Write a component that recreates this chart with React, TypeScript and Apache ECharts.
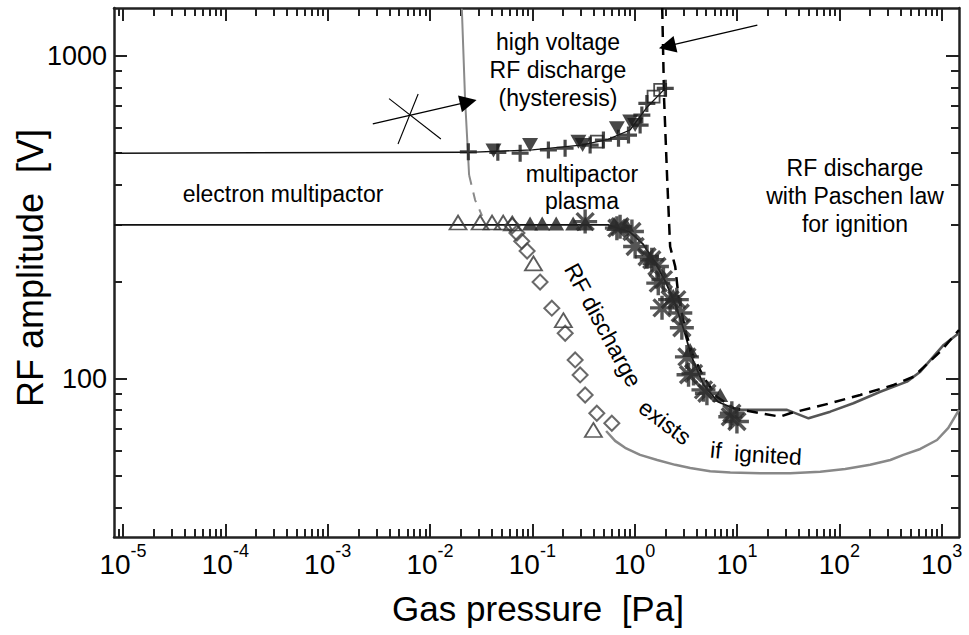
import React, { useEffect, useRef } from "react";
import * as echarts from "echarts";

// ---------- axis ranges (Pa / V) ----------
const X_MIN = 8.17e-6;
const X_MAX = 1476;
const Y_MIN = 32.4;
const Y_MAX = 1408;
const xMajorExp = [-5, -4, -3, -2, -1, 0, 1, 2, 3];
const yMajorValues = [100, 1000];

// ---------- data: [pressure Pa, RF amplitude V] ----------
const line500 = [[X_MIN, 500], [0.0237, 503]];
const hysteresisLine = [[0.0237, 503], [0.1, 512], [0.3, 530], [0.55, 552], [0.9, 590], [1.3, 690], [2.0, 795]];
const plusMarks = [[0.0237, 505], [0.046, 503], [0.076, 500], [0.1435, 512], [0.209, 518], [0.367, 530], [0.495, 549], [0.695, 556], [0.87, 569], [1.13, 611], [1.175, 656], [1.315, 713], [1.99, 794]];
const invTriMarks = [[0.0417, 510], [0.095, 530], [0.282, 543], [0.31, 530], [0.67, 597], [0.904, 627], [1.01, 611]];
const squareMarks = [[0.4266, 543], [1.53, 748], [1.775, 785]];

const line300 = [[X_MIN, 300], [0.55, 300], [0.9, 285], [1.2, 262], [1.6, 228], [2.0, 200], [2.5, 170], [3.0, 143], [3.6, 117], [4.7, 96], [6.5, 85], [10, 80.2]];
const openTriMarks = [[0.0188, 305], [0.0309, 305], [0.0404, 305], [0.0519, 305], [0.0636, 303], [0.1026, 228], [0.201, 152], [0.395, 69.5]];
const filledTriMarks = [[0.095, 303], [0.1248, 303], [0.171, 303], [0.2506, 303], [0.33, 303], [0.631, 302], [0.826, 300], [1.42, 237], [2.38, 181], [3.48, 123], [6.85, 89.2]];
const asteriskMarks = [[0.328, 307], [0.67, 293], [0.72, 296], [0.94, 286], [1.01, 257], [1.32, 239], [1.47, 234], [1.65, 223], [1.7, 198], [1.91, 203], [2.22, 176], [1.85, 166], [2.58, 176], [2.79, 160], [2.89, 144], [3.24, 117], [3.36, 103], [3.76, 104], [4.7, 92.5], [5.08, 90.3], [8.6, 76.4], [8.9, 78.3], [9.98, 73.8]];
const diamondMarks = [[0.0636, 298], [0.0707, 283], [0.0788, 267], [0.0889, 249], [0.119, 199.5], [0.155, 165.6], [0.2094, 138.5], [0.262, 114.5], [0.293, 102.9], [0.328, 89.2], [0.4266, 78.3], [0.598, 72.9]];

const steepGray = [[0.02047, 1400], [0.02203, 731], [0.0241, 428]];
const steepGrayDash = [[0.0241, 428], [0.0276, 358], [0.0323, 320]];
const bottomCurve = [[0.526, 69], [0.644, 64.3], [0.807, 61.2], [1.13, 58.2], [1.66, 56.1], [2.49, 54.2], [3.49, 53], [5.47, 51.8], [8.6, 51.3], [16.9, 51.0], [33.1, 51.0], [65, 51.6], [114, 52.6], [200, 54.2], [315, 56.1], [422, 58.2], [618, 60.7], [900, 64.7], [1161, 70.5], [1476, 80.2]];
const paschen = [[1.858, 1408], [1.94, 731], [2.08, 413], [2.22, 257], [2.49, 222.7], [2.68, 179.8], [3.12, 141.8], [3.62, 120.4], [4.68, 101.6], [6.36, 88.1], [9.25, 81.2], [16.9, 78.3], [26.4, 76.4], [33.1, 78.3], [81.5, 84.1], [160, 89.2], [339, 95.8], [531, 101.6], [968, 121.5], [1476, 141.8]];
const rightSolid = [[9.98, 80.2], [30.8, 80.2], [50, 75.5], [81.5, 79.2], [137, 84.1], [251, 91.3], [458, 98.1], [618, 105.3], [1045, 127.4], [1476, 138.8]];

const arrowLines = [
  [[0.00276, 616], [0.02366, 720.5]],
  [[15.8, 1247], [2.08, 1072]],
];
const starLines = [
  [[0.00398, 737.6], [0.01277, 553.4]],
  [[0.00766, 762.8], [0.00487, 534]],
];

// ---------- helpers ----------
const lg = (v: number) => Math.log10(v);
const toLog = (pts: number[][]) => pts.map(([x, y]) => [lg(x), lg(y)]);

function minorTicks(lo: number, hi: number) {
  const out: number[] = [];
  for (let n = -7; n <= 4; n++) {
    for (let k = 2; k <= 9; k++) {
      const v = k * Math.pow(10, n);
      if (v >= lo && v <= hi) out.push(lg(v));
    }
  }
  return out;
}

function barsPath(angles: number[], half: number, w: number) {
  const c = half;
  return (
    "path://" +
    angles
      .map((a) => {
        const r = (a * Math.PI) / 180;
        const cx = Math.cos(r);
        const sy = Math.sin(r);
        const px = -sy * w;
        const py = cx * w;
        const p = [
          [c + cx * half + px, c + sy * half + py],
          [c - cx * half + px, c - sy * half + py],
          [c - cx * half - px, c - sy * half - py],
          [c + cx * half - px, c + sy * half - py],
        ];
        return "M" + p.map((q) => q[0].toFixed(2) + "," + q[1].toFixed(2)).join("L") + "Z";
      })
      .join(" ")
  );
}

const PLUS = barsPath([0, 90], 8, 1.5);
const ASTER = barsPath([0, 45, 90, 135], 12, 1.7);

const FONT = "'Liberation Sans', Arial, Helvetica, sans-serif";
const AXIS_COLOR = "#222";

export default function App() {
  const ref = useRef<HTMLDivElement>(null);

  useEffect(() => {
    if (!ref.current) return;
    const chart = echarts.init(ref.current, null, { renderer: "svg" });

    const xMin = lg(X_MIN);
    const xMax = lg(X_MAX);
    const yMin = lg(Y_MIN);
    const yMax = lg(Y_MAX);
    const xMinor = minorTicks(X_MIN, X_MAX);
    const yMinor = minorTicks(Y_MIN, Y_MAX);
    const yMajor = yMajorValues.map(lg);

    const hiddenLine = { show: false, onZero: false };
    const shownLine = { show: true, onZero: false, lineStyle: { color: AXIS_COLOR, width: 2.5 } };
    const baseAxis = {
      type: "value" as const,
      splitLine: { show: false },
      axisLine: hiddenLine,
      axisLabel: { show: false },
    };
    const tick = (values: number[], length: number) => ({
      show: true,
      inside: true,
      length,
      customValues: values,
      lineStyle: { color: AXIS_COLOR, width: 2 },
    });

    const xAxes = [
      {
        ...baseAxis,
        min: xMin,
        max: xMax,
        position: "bottom",
        axisLine: shownLine,
        axisTick: tick(xMajorExp, 13),
        axisLabel: {
          show: true,
          customValues: xMajorExp,
          margin: 5,
          formatter: (v: number) => `{b|10}{s|${Math.round(v)}}`,
          rich: {
            b: { fontSize: 28, fontFamily: FONT, color: "#000", lineHeight: 36, verticalAlign: "bottom" },
            s: { fontSize: 18, fontFamily: FONT, color: "#000", lineHeight: 18, verticalAlign: "top" },
          },
        },
      },
      { ...baseAxis, min: xMin, max: xMax, position: "bottom", axisTick: tick(xMinor, 8) },
      { ...baseAxis, min: xMin, max: xMax, position: "top", axisLine: shownLine, axisTick: tick(xMajorExp, 13) },
      { ...baseAxis, min: xMin, max: xMax, position: "top", axisTick: tick(xMinor, 8) },
    ];
    const yAxes = [
      {
        ...baseAxis,
        min: yMin,
        max: yMax,
        position: "left",
        axisLine: shownLine,
        axisTick: tick(yMajor, 13),
        axisLabel: {
          show: true,
          customValues: yMajor,
          margin: 7,
          fontSize: 27,
          fontFamily: FONT,
          color: "#000",
          formatter: (v: number) => String(Math.round(Math.pow(10, v))),
        },
      },
      { ...baseAxis, min: yMin, max: yMax, position: "left", axisTick: tick(yMinor, 8) },
      { ...baseAxis, min: yMin, max: yMax, position: "right", axisLine: shownLine, axisTick: tick(yMajor, 13) },
      { ...baseAxis, min: yMin, max: yMax, position: "right", axisTick: tick(yMinor, 8) },
    ];

    const lineS = (data: number[][], color: string, width: number, extra: any = {}) => ({
      type: "line",
      data: toLog(data),
      showSymbol: false,
      symbol: "none",
      silent: true,
      clip: true,
      lineStyle: { color, width, ...(extra.lineStyle || {}) },
      smooth: extra.smooth || false,
      z: extra.z || 2,
    });
    const scatterS = (data: number[][], symbol: string, size: any, itemStyle: any, extra: any = {}) => ({
      type: "scatter",
      data: toLog(data),
      symbol,
      symbolSize: size,
      silent: true,
      itemStyle,
      z: 5,
      ...extra,
    });

    const option: any = {
      animation: false,
      grid: { left: 114, right: 10, top: 8, bottom: 98, containLabel: false, outerBoundsMode: "none" },
      xAxis: xAxes,
      yAxis: yAxes,
      series: [
        lineS(line500, "#111", 1.5),
        lineS(hysteresisLine, "#111", 1.3),
        lineS(line300, "#111", 1.8),
        lineS(steepGray, "#8a8a8a", 2),
        lineS(steepGrayDash, "#8a8a8a", 2, { lineStyle: { type: [10, 8] } }),
        lineS(bottomCurve, "#888", 2.5),
        lineS(rightSolid, "#555", 2.6),
        lineS(paschen, "#000", 2.5, { lineStyle: { type: [11, 7] }, z: 3 }),
        scatterS(diamondMarks, "diamond", 15, { color: "rgba(255,255,255,0)", borderColor: "#444", borderWidth: 2 }),
        scatterS(openTriMarks, "triangle", [17, 14], { color: "rgba(255,255,255,0)", borderColor: "#333", borderWidth: 1.8 }),
        scatterS(filledTriMarks, "triangle", [16, 14], { color: "#1a1a1a" }),
        scatterS(asteriskMarks, ASTER, 24, { color: "#2b2b2b" }),
        scatterS(squareMarks, "rect", 12, { color: "rgba(255,255,255,0)", borderColor: "#222", borderWidth: 1.8 }),
        scatterS(invTriMarks, "triangle", [16, 14], { color: "#1a1a1a" }, { symbolRotate: 180 }),
        scatterS(plusMarks, PLUS, 17, { color: "#1a1a1a" }),
        {
          type: "lines",
          coordinateSystem: "cartesian2d",
          silent: true,
          symbol: ["none", "triangle"],
          symbolSize: 17,
          lineStyle: { color: "#000", width: 1.3, opacity: 1 },
          data: arrowLines.map((c) => ({ coords: toLog(c) })),
          z: 6,
        },
        {
          type: "lines",
          coordinateSystem: "cartesian2d",
          silent: true,
          symbol: ["none", "none"],
          lineStyle: { color: "#000", width: 1.1, opacity: 1 },
          data: starLines.map((c) => ({ coords: toLog(c) })),
          z: 6,
        },
      ],
      graphic: [
        { type: "text", x: 538, y: 608, style: { text: "Gas pressure  [Pa]", font: `35px ${FONT}`, fill: "#000", align: "center", verticalAlign: "middle" } },
        { type: "text", x: 30, y: 268, rotation: Math.PI / 2, style: { text: "RF amplitude  [V]", font: `36px ${FONT}`, fill: "#000", align: "center", verticalAlign: "middle" } },
        { type: "text", x: 558, y: 70, style: { text: "high voltage\nRF discharge\n(hysteresis)", font: `23px ${FONT}`, lineHeight: 28, fill: "#000", align: "center", verticalAlign: "middle" } },
        { type: "text", x: 582, y: 187, style: { text: "multipactor\nplasma", font: `23px ${FONT}`, lineHeight: 27, fill: "#000", align: "center", verticalAlign: "middle" } },
        { type: "text", x: 855, y: 196, style: { text: "RF discharge\nwith Paschen law\nfor ignition", font: `23px ${FONT}`, lineHeight: 28, fill: "#000", align: "center", verticalAlign: "middle" } },
        { type: "text", x: 283, y: 194, style: { text: "electron multipactor", font: `23px ${FONT}`, fill: "#000", align: "center", verticalAlign: "middle" } },
        { type: "text", x: 603, y: 325, rotation: -1.075, style: { text: "RF discharge", font: `23px ${FONT}`, fill: "#000", align: "center", verticalAlign: "middle" } },
        { type: "text", x: 665, y: 422, rotation: -0.646, style: { text: "exists", font: `23px ${FONT}`, fill: "#000", align: "center", verticalAlign: "middle" } },
        { type: "text", x: 716, y: 450, rotation: -0.1, style: { text: "if", font: `23px ${FONT}`, fill: "#000", align: "center", verticalAlign: "middle" } },
        { type: "text", x: 768, y: 455, rotation: -0.06, style: { text: "ignited", font: `23px ${FONT}`, fill: "#000", align: "center", verticalAlign: "middle" } },
      ],
    };

    chart.setOption(option);
    return () => chart.dispose();
  }, []);

  return (
    <div
      ref={ref}
      style={{ position: "fixed", left: 0, top: 0, width: 969, height: 635, background: "#fff" }}
    />
  );
}
